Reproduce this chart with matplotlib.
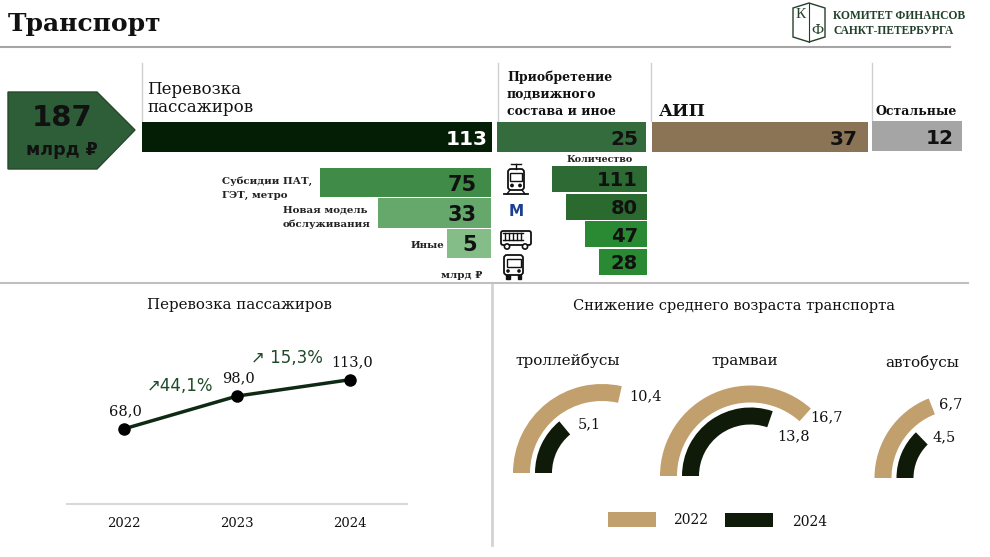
import numpy as np
import matplotlib
matplotlib.use("Agg")
import matplotlib.pyplot as plt
from matplotlib.patches import Polygon, Rectangle, FancyBboxPatch, Circle, Wedge

# ---- data ----
top_labels = ["Перевозка\nпассажиров", "Приобретение\nподвижного\nсостава и иное", "АИП", "Остальные"]
top_values = [113, 25, 37, 12]
sub_labels = ["Субсидии ПАТ,\nГЭТ, метро", "Новая модель\nобслуживания", "Иные"]
sub_values = [75, 33, 5]
fleet_counts = [111, 80, 47, 28]  # трамваи, метро, троллейбусы, автобусы
years = ["2022", "2023", "2024"]
passengers = [68.0, 98.0, 113.0]
age_categories = ["троллейбусы", "трамваи", "автобусы"]
age_2022 = [10.4, 16.7, 6.7]
age_2024 = [5.1, 13.8, 4.5]

SERIF = ["DejaVu Serif", "DejaVu Sans"]
SANS = ["DejaVu Sans"]
W, H = 990, 557

fig = plt.figure(figsize=(W / 100, H / 100), dpi=100)


def px_axes(x0, y0, x1, y1):
    # axes placed by pixel box (top-left origin)
    return fig.add_axes([x0 / W, 1 - y1 / H, (x1 - x0) / W, (y1 - y0) / H])


def comma(v, nd=1):
    return f"{v:.{nd}f}".replace(".", ",")


# ---- background layer: lines, headings, logo, icons ----
bg = px_axes(0, 0, W, H)
bg.set_xlim(0, W)
bg.set_ylim(H, 0)
bg.axis("off")

bg.text(8, 24, "Транспорт", fontsize=18, fontweight="bold", family=SERIF, va="center", color="#111111")
bg.plot([0, 950], [47, 47], color="#a6a6a6", lw=1.5)
bg.plot([0, 968], [283, 283], color="#bfbfbf", lw=1.5)
bg.plot([492, 492], [285, 545], color="#d3d3d3", lw=2)
for x in [142, 498, 651, 872]:
    bg.plot([x, x], [63, 121], color="#cfcfcf", lw=1)

# logo
logo_c = "#23402a"
bg.add_patch(Polygon([(793, 8), (809, 3), (825, 8), (825, 37), (809, 42), (793, 37)],
                     closed=True, fill=False, edgecolor=logo_c, lw=1))
bg.plot([809, 809], [3, 42], color=logo_c, lw=0.8)
bg.text(801, 14, "К", fontsize=11, family=["Liberation Serif"], color=logo_c, ha="center", va="center")
bg.text(817, 31, "Ф", fontsize=11, family=["Liberation Serif"], color=logo_c, ha="center", va="center")
bg.text(833, 16, "КОМИТЕТ ФИНАНСОВ", fontsize=8.3, fontweight="bold", family=["Liberation Serif"],
        color=logo_c, va="center")
bg.text(833, 31, "САНКТ-ПЕТЕРБУРГА", fontsize=8.3, fontweight="bold", family=["Liberation Serif"],
        color=logo_c, va="center")

# total arrow
bg.add_patch(Polygon([(8, 92), (97, 92), (135, 130), (97, 169), (8, 169)], closed=True,
                     facecolor="#2e5e38", edgecolor="#234a2b", lw=1))
bg.text(62, 118, str(sum(top_values)), fontsize=21, fontweight="bold", family=SANS,
        ha="center", va="center", color="#111111")
bg.text(62, 150, "млрд ₽", fontsize=12.5, fontweight="bold", family=SANS,
        ha="center", va="center", color="#111111")

# top headings
for i, line in enumerate(top_labels[0].split("\n")):
    bg.text(147, 94 + 18 * i, line, fontsize=12, family=SERIF, va="baseline", color="#111111")
for i, line in enumerate(top_labels[1].split("\n")):
    bg.text(507, 81 + 17 * i, line, fontsize=9, fontweight="bold", family=SERIF, va="baseline",
            color="#111111")
bg.text(659, 116, top_labels[2], fontsize=12.5, fontweight="bold", family=SERIF, va="baseline",
        color="#111111")
bg.text(876, 115, top_labels[3], fontsize=9, fontweight="bold", family=SERIF, va="baseline",
        color="#111111")

# sub labels
sub_pos = [(222, 184), (283, 213), (411, 248)]
for (x, y), lab in zip(sub_pos, sub_labels):
    for i, line in enumerate(lab.split("\n")):
        bg.text(x, y + 14 * i, line, fontsize=7.4, fontweight="bold", family=SERIF, va="baseline",
                color="#222222")
bg.text(441, 278, "млрд ₽", fontsize=7.5, fontweight="bold", family=SERIF, va="baseline", color="#222222")
bg.text(600, 159, "Количество", fontsize=6.8, fontweight="bold", family=SERIF, ha="center",
        va="center", color="#222222")

# icons
k = "#111111"
# tram
bg.plot([511, 521], [164, 164], color=k, lw=1)
bg.plot([516, 516], [164, 169], color=k, lw=1)
bg.add_patch(FancyBboxPatch((508, 169), 16, 21, boxstyle="round,pad=0,rounding_size=3",
                            fill=False, edgecolor=k, lw=1.3))
bg.add_patch(Rectangle((510, 173), 12, 8, fill=False, edgecolor=k, lw=1))
bg.add_patch(Circle((512, 185.5), 1.2, color=k))
bg.add_patch(Circle((520, 185.5), 1.2, color=k))
bg.plot([504, 528], [194, 194], color=k, lw=1.3)
bg.plot([510, 507], [190, 194], color=k, lw=1)
bg.plot([522, 525], [190, 194], color=k, lw=1)
# metro
bg.text(516, 212, "M", fontsize=11, fontweight="bold", family=SANS, color="#1c3f94",
        ha="center", va="center")
# trolleybus
bg.add_patch(FancyBboxPatch((501, 231), 30, 14, boxstyle="round,pad=0,rounding_size=2",
                            fill=False, edgecolor=k, lw=1.3))
for x in [505, 509, 513, 517, 521]:
    bg.plot([x, x], [233, 240], color=k, lw=1)
bg.plot([503, 523], [233, 233], color=k, lw=1)
bg.plot([503, 523], [240, 240], color=k, lw=1)
bg.add_patch(Circle((507, 246.5), 2.6, facecolor="white", edgecolor=k, lw=1.2))
bg.add_patch(Circle((525, 246.5), 2.6, facecolor="white", edgecolor=k, lw=1.2))
# bus
bg.add_patch(FancyBboxPatch((504, 255), 19, 20, boxstyle="round,pad=0,rounding_size=3",
                            fill=False, edgecolor=k, lw=1.3))
bg.add_patch(Rectangle((506.5, 259), 14, 8, fill=False, edgecolor=k, lw=1))
bg.add_patch(Circle((508, 271), 1.1, color=k))
bg.add_patch(Circle((519, 271), 1.1, color=k))
bg.add_patch(Rectangle((506, 275), 3.5, 4, color=k))
bg.add_patch(Rectangle((517.5, 275), 3.5, 4, color=k))

# bottom headings
bg.text(239, 305, "Перевозка пассажиров", fontsize=10.8, family=SERIF, ha="center", va="center",
        color="#111111")
bg.text(734, 306, "Снижение среднего возраста транспорта", fontsize=10.5, family=SERIF,
        ha="center", va="center", color="#111111")

# ---- top bars (one axes per block) ----
top_boxes = [(142, 122, 492, 152), (497, 122, 646, 152), (652, 122, 868, 152), (872, 121, 962, 151)]
top_colors = ["#041d05", "#356c3e", "#8b7355", "#a5a5a5"]
top_text_colors = ["white", "#111111", "#111111", "#111111"]
top_pads = [4, 8, 10, 8]
for box, v, c, tc, pad in zip(top_boxes, top_values, top_colors, top_text_colors, top_pads):
    ax = px_axes(*box)
    ax.barh(0, v, height=1, color=c, edgecolor="none")
    ax.set_xlim(0, v)
    ax.set_ylim(-0.5, 0.5)
    ax.axis("off")
    ax.annotate(str(v), xy=(v, 0), xytext=(-pad * 0.72, 0), textcoords="offset points",
                ha="right", va="center_baseline", color=tc, fontsize=14.5, fontweight="bold",
                family=SANS)

sqrt_fn = (lambda x: np.sqrt(np.clip(x, 0, None)), lambda x: np.square(x))

# ---- subsidies breakdown (sqrt scale, growing to the left) ----
ax = px_axes(291, 167.5, 491, 258.5)
ax.set_xscale("function", functions=sqrt_fn)
ax.barh(range(len(sub_values)), sub_values, height=0.96,
        color=["#3f8b47", "#66a86c", "#84bd88"], edgecolor="none")
ax.set_xlim(103, 0)
ax.set_ylim(len(sub_values) - 0.5, -0.5)
ax.axis("off")
for i, v in enumerate(sub_values):
    ax.annotate(str(v), xy=(0, i), xytext=(-14 * 0.72, 0), textcoords="offset points",
                ha="right", va="center_baseline", color="#111111", fontsize=15, fontweight="bold",
                family=SANS)

# ---- fleet counts ----
ax = px_axes(546.7, 165.2, 646.7, 275.6)
ax.set_xscale("function", functions=sqrt_fn)
ax.barh(range(len(fleet_counts)), fleet_counts, height=0.94,
        color=["#2e6b34", "#2b6a2f", "#2a8a33", "#2a8a33"], edgecolor="none")
ax.set_xlim(123.5, 0)
ax.set_ylim(len(fleet_counts) - 0.5, -0.5)
ax.axis("off")
for i, v in enumerate(fleet_counts):
    ax.annotate(str(v), xy=(0, i), xytext=(-9 * 0.72, 0), textcoords="offset points",
                ha="right", va="center_baseline", color="#111111", fontsize=14, fontweight="bold",
                family=SANS)

# ---- passengers line ----
ax = px_axes(67, 330, 407, 503.5)
x = np.arange(len(years))
ax.plot(x, passengers, color="#0f2a14", lw=2.5, marker="o", ms=8, mfc="black", mec="black",
        clip_on=False, zorder=3)
ax.set_xlim(-0.5, len(years) - 0.5)
ax.set_ylim(0, 158.3)
for s in ["left", "right", "top"]:
    ax.spines[s].set_visible(False)
ax.spines["bottom"].set_color("#d9d9d9")
ax.spines["bottom"].set_linewidth(1.5)
ax.set_yticks([])
ax.set_xticks(x)
ax.set_xticklabels(years, family=SERIF, fontsize=9.5, color="#111111")
ax.tick_params(axis="x", length=0, pad=10)
for xi, v in zip(x, passengers):
    ax.annotate(comma(v), xy=(xi, v), xytext=(1, 12.5), textcoords="offset points",
                ha="center", va="center", fontsize=10.5, family=SERIF, color="#111111")
growth_prefix = ["↗", "↗ "]
growth_offsets = [(0, 27), (-7, 30)]
for i in range(len(passengers) - 1):
    g = (passengers[i + 1] / passengers[i] - 1) * 100
    mx, my = i + 0.5, (passengers[i] + passengers[i + 1]) / 2
    dx, dy = growth_offsets[i]
    ax.annotate(growth_prefix[i] + comma(g) + "%", xy=(mx, my), xytext=(dx * 0.72, dy * 0.72),
                textcoords="offset points", ha="center", va="center", fontsize=12, family=SANS,
                color="#1f4a2a")

# ---- age gauges ----
ax = px_axes(495, 285, 990, 557)
ax.set_xlim(495, 990)
ax.set_ylim(557, 285)
ax.axis("off")
tan, dark = "#c2a06e", "#0f1a08"
centers = [(602, 473), (750.5, 476), (960, 478)]
outer_r = [89, 90.5, 85.5]
full_scale = [18.2, 22.8, 17.6]
ring_w = 17
cat_pos = [(568, 360), (745, 361), (922, 363)]
off_2022 = [(9, 2), (5, 2), (7, -2)]
off_2024 = [(13, -4), (7, 17), (11, -1)]
for j in range(len(age_categories)):
    cx, cy = centers[j]
    for v, r, col, off in [(age_2022[j], outer_r[j], tan, off_2022[j]),
                           (age_2024[j], outer_r[j] - 22, dark, off_2024[j])]:
        sweep = 180 * v / full_scale[j]
        # y axis is inverted, so angles run the other way
        ax.add_patch(Wedge((cx, cy), r, 180, 180 + sweep, width=ring_w, facecolor=col, edgecolor="none"))
        a = np.radians(180 - sweep)
        rm = r - ring_w / 2
        ex, ey = cx + rm * np.cos(a), cy - rm * np.sin(a)
        ax.text(ex + off[0], ey + off[1], comma(v), fontsize=10.5, family=SERIF, ha="left",
                va="center", color="#111111")
    ax.text(*cat_pos[j], age_categories[j], fontsize=11, family=SERIF, ha="center", va="center",
            color="#111111")

ax.add_patch(Rectangle((608, 512), 48, 15, facecolor=tan, edgecolor="none"))
ax.add_patch(Rectangle((725, 513), 48, 14, facecolor=dark, edgecolor="none"))
ax.text(690.5, 520, "2022", fontsize=10, family=SERIF, ha="center", va="center", color="#111111")
ax.text(809.5, 522, "2024", fontsize=10, family=SERIF, ha="center", va="center", color="#111111")

fig.savefig("out.png", dpi=100)
